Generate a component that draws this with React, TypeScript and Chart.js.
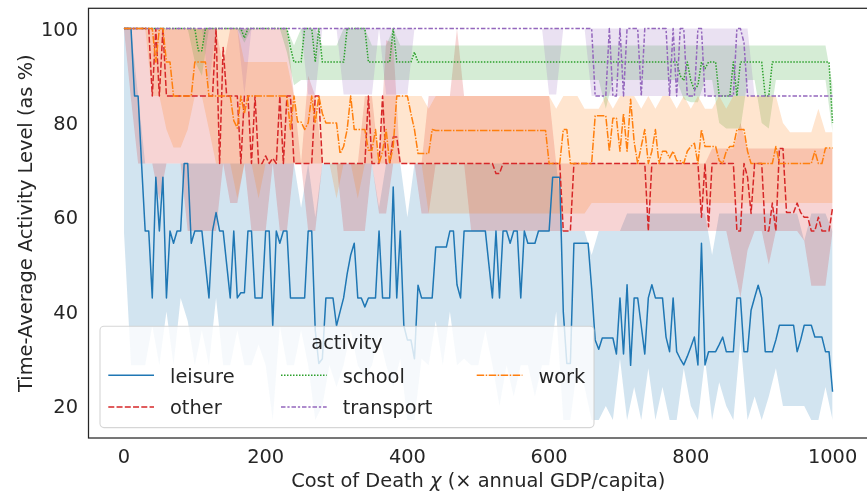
import React, { useEffect, useRef } from "react";
import { Chart, registerables } from "chart.js";

Chart.register(...registerables);

const FONT = '"DejaVu Sans", sans-serif';
const FS = 19.4;
const TEXT = "#262626";

// x grids (cost of death values)
const costX = Array.from({ length: 201 }, (_, i) => i * 5);
const bandX = Array.from({ length: 101 }, (_, i) => i * 10);

const xTicks = [0, 200, 400, 600, 800, 1000];
const xTickLabels = ["0", "200", "400", "600", "800", "1000"];
const yTicks = [20, 40, 60, 80, 100];
const yTickLabels = ["20", "40", "60", "80", "100"];

const activities = ["leisure", "other", "school", "transport", "work"];

// ---- mean lines (x = 0,5,...,1000)
const leisureMean = [
  100, 100, 100, 85.7, 85.7, 71, 57.1, 57.1, 42.9, 68.5,
  57.1, 68.5, 42.9, 57.1, 54.5, 57.1, 57.1, 71.4, 71.4, 54.5,
  57.1, 57.1, 57.1, 50, 42.9, 57.1, 61, 57.1, 57.1, 50,
  42.9, 57.1, 42.9, 44, 44, 57.1, 57.1, 42.9, 42.9, 42.9,
  57.1, 57.1, 37, 57.1, 54.5, 57.1, 57.1, 42.9, 42.9, 42.9,
  42.9, 42.9, 57.1, 57.1, 36, 29, 30, 42.9, 42.9, 42.9,
  37, 40, 42.9, 48, 52, 54.5, 42.9, 42.9, 41, 42.9,
  42.9, 42.9, 57.1, 42.9, 42.9, 42.9, 66.4, 42.9, 57.1, 37,
  34, 34, 30, 45.6, 42.9, 42.9, 42.9, 42.9, 53.7, 53.7,
  53.7, 53.7, 57.1, 57.1, 45.7, 42.9, 57.1, 57.1, 57.1, 57.1,
  57.1, 57.1, 57.1, 50, 42.9, 57.1, 42.9, 57.1, 57.1, 54.5,
  57.1, 57.1, 42.9, 57.1, 54.5, 54.5, 54.5, 57.1, 57.1, 57.1,
  57.1, 68.5, 68.5, 68.5, 40, 29, 29, 54.5, 54.5, 54.5,
  54.5, 54.5, 45, 34, 32, 34.4, 34.4, 34.4, 34.4, 31,
  42.9, 31, 45.7, 28.6, 42.9, 42.9, 37, 31, 42.9, 45.7,
  42.9, 42.9, 42.9, 34.6, 31.5, 42.9, 31.5, 30, 28.7, 30.5,
  32.5, 34.6, 28.7, 54.5, 28.7, 31.5, 31.5, 31.5, 33, 34.6,
  31.5, 31.5, 31.5, 42.9, 42.9, 31.5, 31.5, 40.3, 43, 45.6,
  42.9, 31.5, 31.5, 31.5, 34, 37.1, 37.1, 37.1, 37.1, 37.1,
  31.5, 34, 37.1, 37.1, 37.1, 34.6, 34.6, 34.6, 31.5, 31.5,
  23,
];

const otherMean = [
  100, 100, 100, 100, 100, 100, 100, 100, 85.7, 100,
  85.7, 100, 85.7, 85.7, 85.7, 85.7, 85.7, 85.7, 85.7, 85.7,
  85.7, 85.7, 85.7, 85.7, 85.7, 85.7, 100, 71.4, 96, 85.7,
  85.7, 85.7, 85.7, 71.4, 85.7, 85.7, 71.4, 85.7, 71.4, 71.4,
  73, 71.4, 72.5, 71.4, 85.7, 71.4, 85.7, 85.7, 71.4, 71.4,
  71.4, 71.4, 71.4, 71.4, 85.7, 85.7, 71.4, 71.4, 71.4, 71.4,
  71.4, 71.4, 71.4, 71.4, 71.4, 71.4, 71.4, 71.4, 71.4, 85.7,
  71.4, 71.4, 71.4, 85.7, 71.4, 71.4, 77, 77, 71.4, 71.4,
  71.4, 71.4, 71.4, 71.4, 71.4, 71.4, 71.4, 71.4, 71.4, 71.4,
  71.4, 71.4, 71.4, 71.4, 71.4, 71.4, 71.4, 71.4, 71.4, 71.4,
  71.4, 71.4, 71.4, 71.4, 71.4, 69.3, 69.3, 71.4, 71.4, 71.4,
  71.4, 71.4, 71.4, 71.4, 71.4, 71.4, 71.4, 71.4, 71.4, 71.4,
  71.4, 71.4, 71.4, 71.4, 57.1, 57.1, 57.1, 71.4, 71.4, 71.4,
  71.4, 71.4, 71.4, 71.4, 71.4, 71.4, 71.4, 71.4, 71.4, 71.4,
  71.4, 71.4, 71.4, 71.4, 71.4, 71.4, 71.4, 71.4, 57.1, 71.4,
  71.4, 71.4, 71.4, 71.4, 71.4, 71.4, 71.4, 71.4, 71.4, 71.4,
  71.4, 71.4, 71.4, 60, 71.4, 58, 71.4, 71.4, 71.4, 71.4,
  71.4, 71.4, 71.4, 57.1, 57.1, 71.4, 68.5, 60.8, 71.4, 71.4,
  71.4, 57.1, 57.1, 63, 57.1, 74.6, 74.6, 61, 61, 61,
  63, 61, 60, 60, 57.1, 57.1, 60, 57.1, 57.1, 57.1,
  62,
];

const schoolMean = [
  100, 100, 100, 100, 100, 100, 100, 100, 100, 100,
  100, 100, 100, 100, 100, 100, 100, 100, 100, 100,
  100, 95.3, 95.3, 100, 100, 100, 100, 100, 100, 100,
  100, 100, 100, 100, 98, 100, 100, 100, 100, 100,
  100, 100, 100, 100, 100, 100, 100, 96, 92.9, 92.9,
  92.9, 100, 100, 100, 92.9, 100, 92.9, 92.9, 92.9, 92.9,
  92.9, 92.9, 92.9, 100, 100, 100, 100, 100, 100, 92.9,
  92.9, 92.9, 92.9, 92.9, 92.9, 92.9, 100, 92.9, 92.9, 92.9,
  92.9, 92.9, 95, 92.9, 92.9, 92.9, 92.9, 92.9, 92.9, 92.9,
  92.9, 92.9, 92.9, 92.9, 92.9, 92.9, 92.9, 92.9, 92.9, 92.9,
  92.9, 92.9, 92.9, 92.9, 92.9, 92.9, 92.9, 92.9, 92.9, 92.9,
  92.9, 92.9, 92.9, 92.9, 92.9, 92.9, 92.9, 92.9, 92.9, 92.9,
  92.9, 92.9, 92.9, 92.9, 92.9, 92.9, 92.9, 92.9, 92.9, 92.9,
  92.9, 92.9, 92.9, 92.9, 92.9, 92.9, 92.9, 92.9, 92.9, 92.9,
  92.9, 92.9, 92.9, 92.9, 92.9, 92.9, 92.9, 92.9, 92.9, 92.9,
  92.9, 92.9, 92.9, 92.9, 92.9, 92.9, 92.9, 90, 89, 92.9,
  89, 87, 88, 92.9, 91.5, 92.9, 92.9, 92.9, 85.7, 85.7,
  85.7, 85.7, 92.9, 85.7, 92.9, 92.9, 92.9, 92.9, 92.9, 92.9,
  92.9, 85.7, 85.7, 92.9, 92.9, 92.9, 92.9, 92.9, 92.9, 92.9,
  92.9, 92.9, 92.9, 92.9, 92.9, 92.9, 92.9, 92.9, 92.9, 92.9,
  80,
];

const transportMean = [
  100, 100, 100, 100, 100, 100, 100, 100, 100, 100,
  100, 100, 100, 100, 100, 100, 100, 100, 100, 100,
  100, 100, 100, 100, 100, 100, 100, 100, 100, 100,
  100, 100, 100, 100, 100, 100, 100, 100, 100, 100,
  100, 100, 100, 100, 100, 100, 100, 100, 100, 100,
  100, 100, 100, 100, 100, 100, 100, 100, 100, 100,
  100, 100, 100, 100, 100, 100, 100, 100, 100, 100,
  100, 100, 100, 100, 100, 100, 100, 100, 100, 100,
  100, 100, 100, 100, 100, 100, 100, 100, 100, 100,
  100, 100, 100, 100, 100, 100, 100, 100, 100, 100,
  100, 100, 100, 100, 100, 100, 100, 100, 100, 100,
  100, 100, 100, 100, 100, 100, 100, 100, 100, 100,
  100, 100, 100, 100, 100, 100, 100, 100, 100, 100,
  100, 100, 100, 85.7, 85.7, 85.7, 85.7, 100, 85.7, 85.7,
  100, 85.7, 100, 100, 100, 100, 85.7, 100, 100, 100,
  100, 100, 100, 100, 85.7, 100, 85.7, 100, 100, 85.7,
  85.7, 85.7, 100, 100, 85.7, 85.7, 85.7, 85.7, 85.7, 85.7,
  85.7, 85.7, 85.7, 100, 100, 97, 85.7, 85.7, 85.7, 85.7,
  85.7, 85.7, 85.7, 85.7, 85.7, 85.7, 85.7, 85.7, 85.7, 85.7,
  85.7, 85.7, 85.7, 85.7, 85.7, 85.7, 85.7, 85.7, 85.7, 85.7,
  85.7,
];

const workMean = [
  100, 100, 100, 100, 100, 100, 100, 100, 100, 92.9,
  100, 100, 92.9, 92.9, 85.7, 85.7, 85.7, 85.7, 85.7, 85.7,
  92.9, 92.9, 92.9, 92.9, 85.7, 85.7, 85.7, 85.7, 85.7, 85.7,
  85.7, 80.5, 78.9, 85.7, 82, 85.7, 85.7, 85.7, 85.7, 85.7,
  85.7, 85.7, 85.7, 85.7, 85.7, 85.7, 85.7, 78.6, 85.7, 80.2,
  80.2, 78.6, 80, 85.7, 80, 85.7, 82, 80, 80, 80,
  80, 73.5, 75, 78.6, 85.7, 78.6, 78.6, 78.6, 78.6, 74.2,
  74.2, 78.6, 71.4, 74, 78.6, 71.4, 75, 85.7, 85.7, 85.7,
  85.7, 82, 78.6, 73.5, 73.5, 73.5, 73.5, 78.6, 78.4, 78.4,
  78.4, 78.4, 78.4, 78.4, 78.4, 78.4, 78.4, 78.4, 78.4, 78.4,
  78.4, 78.4, 78.4, 78.4, 78.4, 78.4, 78.4, 78.4, 78.4, 78.4,
  78.4, 78.4, 78.4, 78.4, 78.4, 78.4, 78.4, 78.4, 78.4, 78.4,
  71.4, 71.4, 71.4, 71.4, 78.6, 78.6, 71.4, 71.4, 71.4, 71.4,
  71.4, 71.4, 71.4, 81.5, 81.5, 81.5, 81.5, 74, 81, 81,
  74, 82, 74, 85, 76, 71.4, 75, 78.6, 71.4, 74,
  78.6, 71.4, 74, 74, 72.6, 74, 72, 72, 71.4, 74,
  75, 75.7, 71.4, 78.6, 75, 75, 75, 75, 72, 71.4,
  74, 75, 75, 78.6, 78.6, 78.6, 74, 71.4, 71.4, 71.4,
  71.4, 71.4, 71.4, 71.4, 75, 71.4, 71.4, 71.4, 71.4, 71.4,
  71.4, 71.4, 71.4, 71.4, 71.4, 74, 71.4, 71.4, 74.7, 74.7,
  74.7,
];

// ---- confidence bands (x = 0,10,...,1000)
const leisureLow = [
  57, 28.6, 28.6, 28.6, 37, 28.6, 40, 28.6, 42.9, 38,
  28.6, 36, 28.6, 42.9, 28.6, 28.6, 36, 28.6, 28.6, 33,
  28.6, 17, 37, 28.6, 28.6, 36, 28.6, 17, 20, 28.6,
  24, 28.6, 36, 28.6, 26, 28.6, 35, 28.6, 24, 30,
  17, 17, 30, 28.6, 38, 28.6, 40, 28.6, 30, 28.6,
  28.6, 36, 28.6, 20, 28.6, 22, 28.6, 28.6, 22, 28.6,
  28.6, 40, 17, 17, 28.6, 24, 17, 17, 20, 17,
  30, 17, 24, 17, 28, 17, 24, 17, 17, 28,
  20, 17, 30, 17, 25, 20, 17, 34, 17, 22,
  17, 22, 28, 20, 20, 20, 20, 17, 17, 24,
  17,
];
const leisureHigh = [
  100, 100, 85.7, 71.4, 71.4, 71.4, 71.4, 71.4, 71.4, 71.4,
  71.4, 71.4, 71.4, 71.4, 71.4, 71.4, 71.4, 71.4, 71.4, 71.4,
  71.4, 71.4, 71.4, 71.4, 71.4, 62, 71.4, 60, 71.4, 71.4,
  71.4, 71.4, 71.4, 71.4, 71.4, 71.4, 62, 71.4, 71.4, 71.4,
  60, 71.4, 71.4, 71.4, 71.4, 71.4, 71.4, 71.4, 71.4, 71.4,
  71.4, 71.4, 71.4, 71.4, 71.4, 71.4, 71.4, 71.4, 71.4, 71.4,
  71.4, 71.4, 57.1, 57.1, 57.1, 57.1, 52, 57.1, 57.1, 57.1,
  57.1, 60.8, 60.8, 60.8, 60.8, 60.8, 60.8, 60.8, 60.8, 60.8,
  60.8, 60.8, 60.8, 52, 60.8, 60.8, 60.8, 60.8, 60.8, 60.8,
  60.8, 60.8, 60.8, 60.8, 60.8, 60.8, 55, 60.8, 60.8, 60.8,
  57,
];

const otherLow = [
  100, 85, 71.4, 71.4, 71.4, 63.6, 71.4, 71.4, 71.4, 57.1,
  57.1, 57.1, 57.1, 57.1, 71.4, 63, 63, 71.4, 57.1, 57.1,
  57.1, 71.4, 57.1, 57.1, 71.4, 71.4, 57.1, 57.1, 71.4, 71.4,
  71.4, 57.1, 57.1, 57.1, 57.1, 71.4, 60.8, 60.8, 71.4, 71.4,
  71.4, 71.4, 60.8, 60.8, 71.4, 71.4, 71.4, 71.4, 71.4, 57.1,
  57.1, 57.1, 57.1, 57.1, 57.1, 57.1, 57.1, 57.1, 57.1, 57.1,
  57.1, 57.1, 57.1, 57.1, 57.1, 57.1, 57.1, 57.1, 57.1, 57.1,
  57.1, 57.1, 57.1, 57.1, 57.1, 57.1, 57.1, 57.1, 57.1, 57.1,
  57.1, 57.1, 57.1, 57.1, 57.1, 57.1, 50, 43, 53, 57.1,
  57.1, 50, 57.1, 57.1, 57.1, 57.1, 55, 45.5, 45.5, 45.5,
  57.1,
];
const otherHigh = [
  100, 100, 100, 100, 100, 100, 100, 100, 100, 100,
  100, 100, 100, 100, 92, 100, 100, 100, 100, 100,
  100, 100, 100, 100, 85.7, 71.4, 90, 85.7, 71.4, 71.4,
  71.4, 71.4, 71.4, 71.4, 85.7, 85.7, 71.4, 97.5, 97, 71.4,
  71.4, 71.4, 71.4, 85.7, 85.7, 85.7, 85.7, 100, 85.7, 85.7,
  85.7, 85.7, 85.7, 85.7, 85.7, 85.7, 85.7, 85.7, 85.7, 85.7,
  85.7, 71.4, 71.4, 71.4, 71.4, 71.4, 71.4, 71.4, 71.4, 71.4,
  71.4, 71.4, 71.4, 71.4, 71.4, 71.4, 71.4, 71.4, 71.4, 71.4,
  71.4, 71.4, 71.4, 74.6, 74.6, 74.6, 74.6, 80, 74.6, 74.6,
  74.6, 74.6, 74.6, 74.6, 74.6, 74.6, 74.6, 74.6, 74.6, 74.6,
  74.6,
];

const schoolLow = [
  100, 100, 100, 100, 100, 100, 100, 100, 100, 100,
  93, 90, 100, 100, 100, 100, 100, 97, 100, 100,
  100, 100, 100, 95, 88, 89.1, 89.1, 89.1, 89.1, 89.1,
  89.1, 89.1, 89.1, 89.1, 89.1, 89.1, 89.1, 89.1, 89.1, 89.1,
  89.1, 89.1, 89.1, 89.1, 89.1, 89.1, 89.1, 89.1, 89.1, 89.1,
  89.1, 89.1, 89.1, 89.1, 89.1, 89.1, 89.1, 89.1, 89.1, 89.1,
  89.1, 89.1, 89.1, 89.1, 89.1, 89.1, 89.1, 89.1, 83, 89.1,
  89.1, 89.1, 89.1, 89.1, 89.1, 89.1, 89.1, 89.1, 89.1, 85,
  84.4, 84.4, 89.1, 89.1, 80, 78.8, 78.8, 78.8, 89.1, 89.1,
  80, 78.8, 89.1, 89.1, 89.1, 89.1, 89.1, 89.1, 89.1, 89.1,
  78,
];
const schoolHigh = [
  100, 100, 100, 100, 100, 100, 100, 100, 100, 100,
  100, 100, 100, 100, 100, 100, 100, 100, 100, 100,
  100, 100, 100, 100, 96.4, 100, 100, 100, 96.4, 96.4,
  96.4, 100, 100, 100, 100, 96.4, 96.4, 96.4, 100, 96.4,
  96.4, 96.4, 96.4, 96.4, 96.4, 96.4, 96.4, 96.4, 96.4, 96.4,
  96.4, 96.4, 96.4, 96.4, 96.4, 96.4, 96.4, 96.4, 96.4, 96.4,
  96.4, 96.4, 96.4, 96.4, 96.4, 96.4, 96.4, 96.4, 96.4, 96.4,
  96.4, 96.4, 96.4, 96.4, 96.4, 96.4, 96.4, 96.4, 96.4, 96.4,
  96.4, 96.4, 96.4, 96.4, 96.4, 96.4, 96.4, 96.4, 96.4, 96.4,
  96.4, 96.4, 96.4, 96.4, 96.4, 96.4, 96.4, 96.4, 96.4, 96.4,
  88,
];

const transportLow = [
  100, 100, 100, 100, 100, 100, 100, 100, 100, 100,
  100, 100, 88, 100, 100, 100, 100, 86, 100, 100,
  100, 100, 100, 100, 100, 100, 86, 86, 100, 100,
  100, 86, 86, 86, 86, 86, 100, 86, 86, 86,
  86, 100, 100, 100, 100, 100, 100, 100, 100, 100,
  100, 100, 100, 100, 100, 100, 100, 100, 100, 100,
  86, 86, 100, 100, 100, 100, 85.7, 85.7, 85.7, 85.7,
  85.7, 85.7, 85.7, 85.7, 85.7, 85.7, 85.7, 85.7, 85.7, 85.7,
  85.7, 85.7, 85.7, 85.7, 85.7, 85.7, 85.7, 85.7, 85.7, 85.7,
  85.7, 85.7, 85.7, 85.7, 85.7, 85.7, 85.7, 85.7, 85.7, 85.7,
  85.7,
];
const transportHigh = [
  100, 100, 100, 100, 100, 100, 100, 100, 100, 100,
  100, 100, 100, 100, 100, 100, 100, 100, 100, 100,
  100, 100, 100, 100, 100, 100, 100, 100, 100, 100,
  100, 100, 100, 100, 100, 100, 100, 100, 100, 100,
  100, 100, 100, 100, 100, 100, 100, 100, 100, 100,
  100, 100, 100, 100, 100, 100, 100, 100, 100, 100,
  100, 100, 100, 100, 100, 100, 100, 100, 100, 100,
  100, 100, 100, 100, 100, 100, 100, 100, 100, 100,
  100, 100, 100, 100, 100, 100, 100, 100, 100, 85.7,
  85.7, 85.7, 85.7, 85.7, 85.7, 85.7, 85.7, 85.7, 85.7, 85.7,
  85.7,
];

const workLow = [
  100, 100, 100, 100, 85.7, 85.7, 78.6, 74.8, 74.8, 78.6,
  85.7, 85.7, 78.6, 71.4, 71.4, 71.4, 64, 71.4, 71.4, 64,
  71.4, 71.4, 71.4, 71.4, 71.4, 71.4, 71.4, 71.4, 71.4, 71.4,
  64, 71.4, 71.4, 64, 71.4, 71.4, 71.4, 71.4, 71.4, 71.4,
  71.4, 71.4, 71.4, 60.8, 60.8, 60.8, 60.8, 60.8, 60.8, 60.8,
  60.8, 60.8, 60.8, 60.8, 60.8, 60.8, 60.8, 60.8, 60.8, 60.8,
  60.8, 60.8, 60.8, 60.8, 60.8, 60.8, 63, 63, 63, 63,
  63, 63, 63, 63, 63, 63, 63, 63, 63, 63,
  63, 63, 63, 63, 63, 63, 63, 63, 63, 63,
  63, 63, 63, 63, 63, 63, 63, 63, 63, 63,
  63,
];
const workHigh = [
  100, 100, 100, 100, 100, 100, 100, 100, 100, 100,
  100, 100, 100, 100, 100, 100, 100, 92.9, 92.9, 92.9,
  92.9, 92.9, 92.9, 92.9, 85.7, 85.7, 85.7, 85.7, 85.7, 85.7,
  85.7, 85.7, 85.7, 85.7, 85.7, 85.7, 85.7, 85.7, 85.7, 85.7,
  85.7, 85.7, 85.7, 83, 85.7, 85.7, 85.7, 85.7, 85.7, 85.7,
  85.7, 85.7, 85.7, 85.7, 85.7, 85.7, 85.7, 85.7, 85.7, 85.7,
  85.7, 83, 85.7, 85.7, 85.7, 83, 83, 83, 85.7, 83,
  85.7, 85.7, 85.7, 83, 85.7, 83, 85.7, 85.7, 83, 85.7,
  83, 85.7, 83, 83, 85.7, 83, 85.7, 85.7, 85.7, 85.7,
  85.7, 85.7, 85.7, 80, 78, 78, 78, 78, 83, 78,
  78,
];

const means = [leisureMean, otherMean, schoolMean, transportMean, workMean];
const lows = [leisureLow, otherLow, schoolLow, transportLow, workLow];
const highs = [leisureHigh, otherHigh, schoolHigh, transportHigh, workHigh];

const lineColors = ["#1f77b4", "#d62728", "#2ca02c", "#9467bd", "#ff7f0e"];
const bandColors = [
  "rgba(31,119,180,0.2)",
  "rgba(214,39,40,0.2)",
  "rgba(44,160,44,0.2)",
  "rgba(148,103,189,0.2)",
  "rgba(255,127,14,0.2)",
];
const dashes: number[][] = [
  [],
  [6, 2.25],
  [1.5, 1.5],
  [4.5, 1.875, 2.25, 1.875],
  [7.5, 1.5, 1.5, 1.5],
];

function drawText(ctx, parts, cx, y) {
  let total = 0;
  for (const p of parts) {
    ctx.font = p[1];
    total += ctx.measureText(p[0]).width;
  }
  let x = cx - total / 2;
  ctx.textAlign = "left";
  for (const p of parts) {
    ctx.font = p[1];
    ctx.fillText(p[0], x, y);
    x += ctx.measureText(p[0]).width;
  }
}

const decorPlugin = {
  id: "decor",
  afterDatasetsDraw(chart) {
    const { ctx, chartArea: a, scales } = chart;
    const font = `${FS}px ${FONT}`;
    ctx.save();
    // frame
    ctx.setLineDash([]);
    ctx.strokeStyle = TEXT;
    ctx.lineWidth = 1.25;
    ctx.strokeRect(a.left, a.top, a.right - a.left, a.bottom - a.top);

    // tick labels
    ctx.fillStyle = TEXT;
    ctx.font = font;
    ctx.textBaseline = "alphabetic";
    ctx.textAlign = "center";
    xTicks.forEach((v, i) => {
      ctx.fillText(xTickLabels[i], scales.x.getPixelForValue(v), a.bottom + 24.5);
    });
    ctx.textAlign = "right";
    yTicks.forEach((v, i) => {
      ctx.fillText(yTickLabels[i], a.left - 10.5, scales.y.getPixelForValue(v) + 7.1);
    });

    // x title
    const normal = `${FS}px ${FONT}`;
    const italic = `italic ${FS}px ${FONT}`;
    drawText(
      ctx,
      [
        ["Cost of Death ", normal],
        ["\u03c7", italic],
        [" (\u00d7 annual GDP/capita)", normal],
      ],
      (a.left + a.right) / 2,
      a.bottom + 48.5
    );

    // y title
    ctx.save();
    ctx.translate(32, (a.top + a.bottom) / 2);
    ctx.rotate(-Math.PI / 2);
    ctx.textAlign = "center";
    ctx.font = normal;
    ctx.fillText("Time-Average Activity Level (as %)", 0, 0);
    ctx.restore();

    // legend
    const lx = a.left + 11.5;
    const ly = a.bottom - 111.7;
    const lw = 494;
    const lh = 101.3;
    ctx.beginPath();
    ctx.roundRect(lx, ly, lw, lh, 4);
    ctx.fillStyle = "rgba(255,255,255,0.8)";
    ctx.fill();
    ctx.strokeStyle = "rgba(204,204,204,0.8)";
    ctx.lineWidth = 1.1;
    ctx.stroke();

    ctx.fillStyle = TEXT;
    ctx.font = normal;
    ctx.textAlign = "center";
    ctx.fillText("activity", lx + lw / 2, ly + 22.5);

    const colX = [8.3, 181, 376.7];
    const handleY = [49, 80.7];
    const textY = [56.5, 87.3];
    activities.forEach((name, k) => {
      const col = Math.floor(k / 2);
      const row = k % 2;
      const hx = lx + colX[col];
      const hy = ly + handleY[row];
      ctx.beginPath();
      ctx.setLineDash(dashes[k]);
      ctx.lineCap = "butt";
      ctx.strokeStyle = lineColors[k];
      ctx.lineWidth = 1.5;
      ctx.moveTo(hx, hy);
      ctx.lineTo(hx + 45.7, hy);
      ctx.stroke();
      ctx.setLineDash([]);
      ctx.textAlign = "left";
      ctx.fillStyle = TEXT;
      ctx.fillText(name, hx + 45.7 + 16, ly + textY[row]);
    });
    ctx.restore();
  },
};

export default function App() {
  const ref = useRef<HTMLCanvasElement | null>(null);

  useEffect(() => {
    if (!ref.current) return;
    const datasets: any[] = [];
    activities.forEach((name, k) => {
      const lowIndex = datasets.length;
      datasets.push({
        label: name + " low",
        data: bandX.map((x, i) => ({ x, y: lows[k][i] })),
        borderColor: "rgba(0,0,0,0)",
        borderWidth: 0,
        pointRadius: 0,
        fill: false,
        order: 20 - k,
      });
      datasets.push({
        label: name + " high",
        data: bandX.map((x, i) => ({ x, y: highs[k][i] })),
        borderColor: "rgba(0,0,0,0)",
        borderWidth: 0,
        pointRadius: 0,
        backgroundColor: bandColors[k],
        fill: lowIndex,
        order: 20 - k,
      });
    });
    activities.forEach((name, k) => {
      datasets.push({
        label: name,
        data: costX.map((x, i) => ({ x, y: means[k][i] })),
        borderColor: lineColors[k],
        borderWidth: 1.5,
        borderDash: dashes[k],
        borderCapStyle: "butt",
        borderJoinStyle: "round",
        pointRadius: 0,
        fill: false,
        tension: 0,
        order: 4 - k,
      });
    });

    const chart = new Chart(ref.current, {
      type: "line",
      data: { datasets },
      options: {
        animation: false,
        responsive: false,
        devicePixelRatio: 1,
        layout: { padding: { left: 88.5, top: 8.3, right: 12, bottom: 55 } },
        scales: {
          x: { type: "linear", display: false, min: -50, max: 1050 },
          y: { type: "linear", display: false, min: 13.2, max: 104.3 },
        },
        plugins: {
          legend: { display: false },
          tooltip: { enabled: false },
          filler: { propagate: false },
        },
        elements: { line: { tension: 0 } },
      },
      plugins: [decorPlugin],
    });
    return () => chart.destroy();
  }, []);

  return (
    <div
      style={{
        position: "fixed",
        left: 0,
        top: 0,
        width: 867,
        height: 493,
        overflow: "hidden",
        background: "#ffffff",
      }}
    >
      <canvas ref={ref} width={880} height={493} style={{ display: "block", width: 880, height: 493 }} />
    </div>
  );
}
